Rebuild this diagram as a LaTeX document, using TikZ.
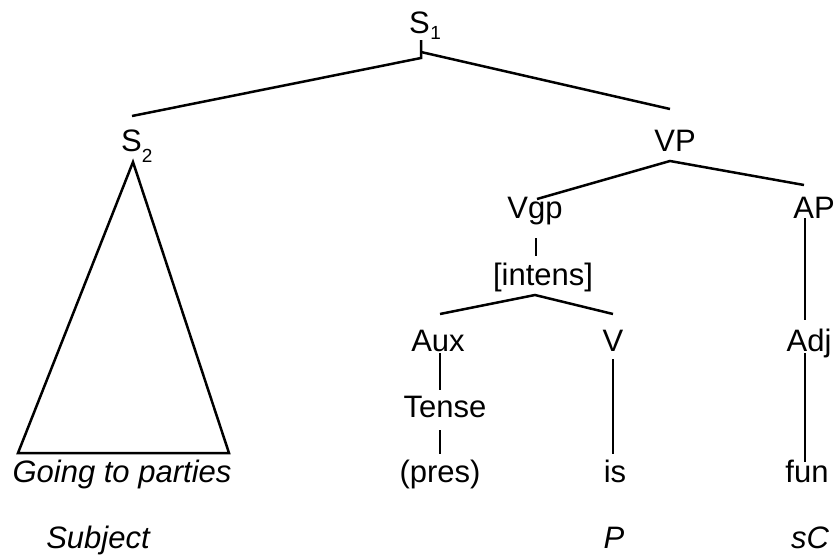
\documentclass[tikz,border=0pt]{standalone}
\usepackage{fontspec}
\setmainfont{Liberation Sans}
\newcommand{\mysub}[3]{\hspace{#2pt}\raisebox{-#3pt}{\fontsize{19}{19}\selectfont #1}}
\begin{document}
\begin{tikzpicture}[x=1pt,y=-1pt,
  lab/.style={inner sep=0pt,anchor=base,font=\fontsize{31}{36}\selectfont},
  labw/.style={lab,anchor=base west},
  fn/.style={lab,font=\fontsize{31}{36}\selectfont\itshape},
  br/.style={line width=2.5pt}]
\useasboundingbox (0,0) rectangle (839,558);
% labels
\node[labw] (s1) at (409,33) {S\mysub{1}{0.5}{6}};
\node[labw] (s2) at (121,151) {S\mysub{2}{0}{11}};
\node[lab] (vp) at (675,151) {VP};
\node[lab] (vgp) at (535,218) {Vgp};
\node[lab] (ap) at (814,218) {AP};
\node[lab] (int) at (543,285) {[intens]};
\node[lab] (aux) at (438,351) {Aux};
\node[lab] (v) at (613,351) {V};
\node[lab] (adj) at (809,351) {Adj};
\node[lab] (tense) at (445,417) {Tense};
\node[lab] (pres) at (440,482) {(pres)};
\node[lab] (is) at (615,482) {is};
\node[lab] (fun) at (807,482) {fun};
\node[fn] (gtp) at (122,482) {Going to parties};
\node[fn] (subj) at (98,548) {Subject};
\node[fn] (p) at (614,548) {P};
\node[fn] (sc) at (810,548) {sC};
% connector points
\coordinate (s1b) at (421,40);
\coordinate (s1j) at (421,58);
\coordinate (s1r) at (421,52);
\coordinate (s2t) at (132,116);
\coordinate (vpt) at (670,109);
\coordinate (tria) at (133,162);
\coordinate (tril) at (18,453);
\coordinate (trir) at (229,453);
\coordinate (vpj) at (670,161);
\coordinate (vgpt) at (537,199);
\coordinate (apt) at (804,185);
\coordinate (vgpb) at (536,238);
\coordinate (intt) at (536,256);
\coordinate (intj) at (535,295);
\coordinate (auxt) at (440,314);
\coordinate (vt) at (613,314);
\coordinate (auxb) at (440,353);
\coordinate (tenset) at (440,390);
\coordinate (vb) at (613,359);
\coordinate (ist) at (613,454);
\coordinate (tenseb) at (440,430);
\coordinate (prest) at (440,454);
\coordinate (apb) at (805,218);
\coordinate (adjt) at (805,320);
\coordinate (adjb) at (805,353);
\coordinate (funt) at (805,462);
% branches
\draw[br] (s1b) -- (s1j) -- (s2t);
\draw[br] (s1r) -- (vpt);
\draw[br,line join=miter] (tria) -- (tril) -- (trir) -- cycle;
\draw[br] (vgpt) -- (vpj) -- (apt);
\draw[br] (vgpb) -- (intt);
\draw[br] (auxt) -- (intj) -- (vt);
\draw[br] (auxb) -- (tenset);
\draw[br] (vb) -- (ist);
\draw[br] (tenseb) -- (prest);
\draw[br] (apb) -- (adjt);
\draw[br] (adjb) -- (funt);
\end{tikzpicture}
\end{document}
